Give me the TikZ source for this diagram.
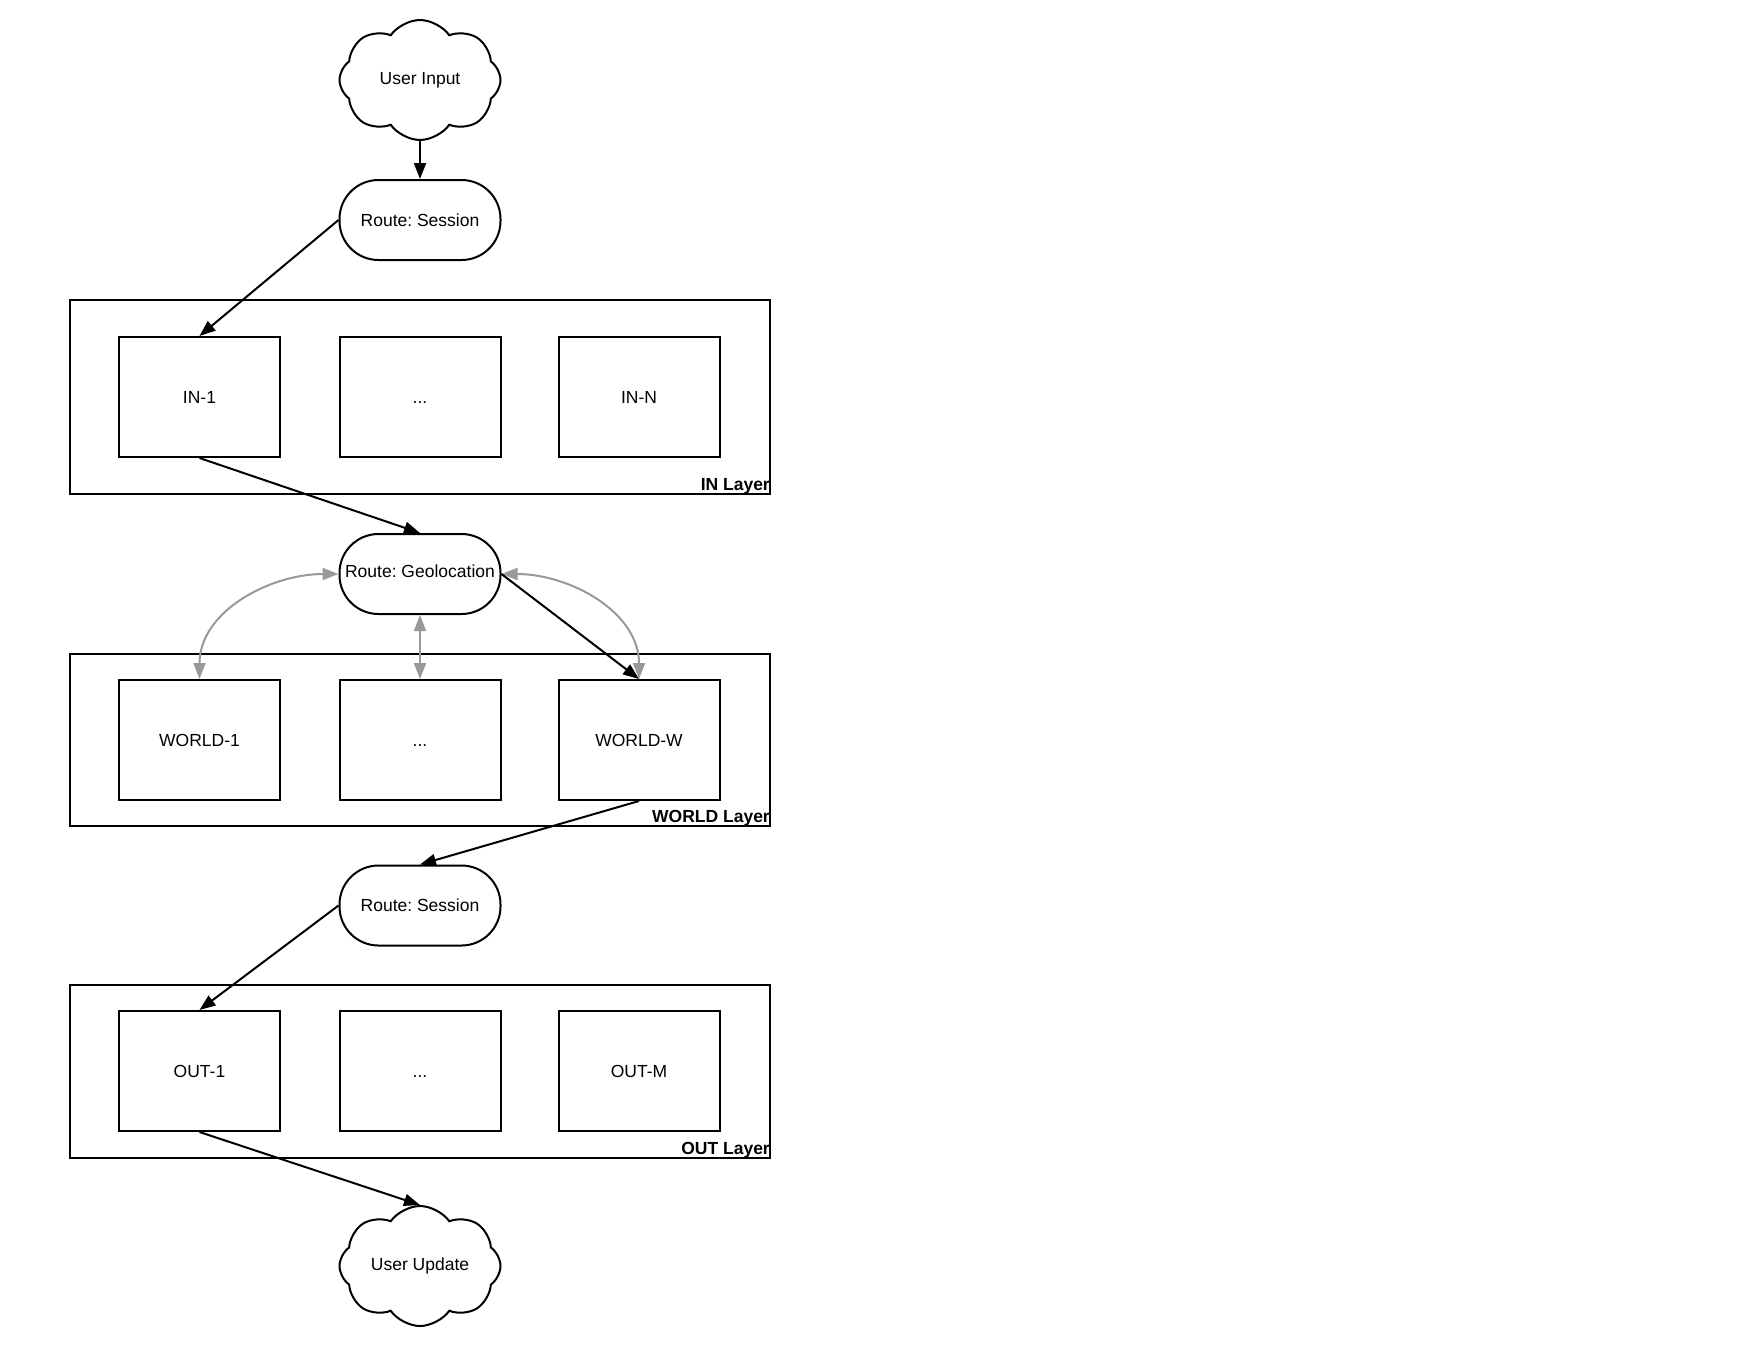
\documentclass[tikz,border=0pt]{standalone}
\usepackage{fontspec}
\setmainfont{Liberation Sans}
\usetikzlibrary{shapes.symbols,arrows.meta}
\definecolor{lgrey}{HTML}{999999}
\frenchspacing
\tikzset{
  every node/.style={font=\fontsize{17.5}{20}\selectfont},
  box/.style={draw,line width=2pt,minimum width=161pt,minimum height=120pt,inner sep=0pt,text height=12.6pt,text depth=0pt},
  layer/.style={draw,line width=2pt,inner sep=0pt},
  route/.style={draw,line width=2pt,rounded corners=39pt,minimum width=161pt,minimum height=80pt,inner sep=0pt},
  cloudn/.style={draw,cloud,cloud puffs=8,cloud puff arc=110,cloud ignores aspect,line width=2pt,minimum width=161pt,minimum height=120pt,inner sep=0pt},
  conn/.style={line width=2pt,-{Triangle[length=16pt,width=12pt]}},
  gconn/.style={line width=2pt,draw=lgrey,{Triangle[length=16pt,width=12pt,fill=lgrey]}-{Triangle[length=16pt,width=12pt,fill=lgrey]}},
  lbl/.style={font=\bfseries\fontsize{17.5}{20}\selectfont,anchor=south east,inner sep=1pt},
}
\begin{document}
\begin{tikzpicture}[x=1pt,y=-1pt]
\useasboundingbox (0,0) rectangle (1760,1360);
% layers
\node[layer,minimum width=700pt,minimum height=194pt] (inL) at (420,397) {};
\node[layer,minimum width=700pt,minimum height=172pt] (wL) at (420,740) {};
\node[layer,minimum width=700pt,minimum height=173pt] (oL) at (420,1071.5) {};
\node[lbl] (inLt) at (inL.south east) {IN Layer};
\node[lbl] (wLt) at (wL.south east) {WORLD Layer};
\node[lbl] (oLt) at (oL.south east) {OUT Layer};
% clouds
\node[cloudn] (ui) at (420,80) {User Input};
\node[cloudn] (uu) at (420,1266) {User Update};
% routes
\node[route] (rs1) at (420,220) {Route: Session};
\node[route] (geo) at (420,574) {};
\node (geot) at (420,571) {Route: Geolocation};
\node[route] (rs2) at (420,905.5) {Route: Session};
% boxes
\node[box] (in1) at (199.5,397) {IN-1};
\node[box] (in2) at (420,397) {{.}{.}{.}};
\node[box] (inN) at (639,397) {IN-N};
\node[box] (w1) at (199.5,740) {WORLD-1};
\node[box] (w2) at (420,740) {{.}{.}{.}};
\node[box] (wW) at (639,740) {WORLD-W};
\node[box] (o1) at (199.5,1071) {OUT-1};
\node[box] (o2) at (420,1071) {{.}{.}{.}};
\node[box] (oM) at (639,1071) {OUT-M};
% connectors
\draw[conn] (ui.south) -- (rs1.north);
\draw[conn] (rs1.west) -- (in1.north);
\draw[conn] (in1.south) -- (geo.north);
\draw[gconn] (geo.west) to[out=180,in=90] (w1.north);
\draw[gconn] (geo.south) -- (w2.north);
\draw[gconn] (geo.east) to[out=0,in=90] (wW.north);
\draw[conn] (geo.east) -- (wW.north);
\draw[conn] (wW.south) -- (rs2.north);
\draw[conn] (rs2.west) -- (o1.north);
\draw[conn] (o1.south) -- (uu.north);
\end{tikzpicture}
\end{document}
